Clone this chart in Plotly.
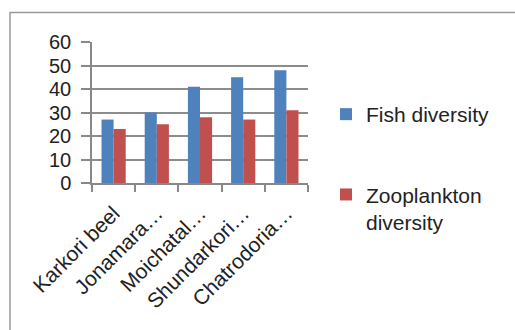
import plotly.graph_objects as go

categories = ["Karkori beel", "Jonamara…", "Moichatal…", "Shundarkori…", "Chatrodoria…"]
fish_diversity = [27, 30, 41, 45, 48]
zooplankton_diversity = [23, 25, 28, 27, 31]
y_ticks = [0, 10, 20, 30, 40, 50, 60]

W, H = 515, 330
L, R, T, B = 92, 207, 42, 147
pw, ph = W - L - R, H - T - B

def px_x(p):
    return (p - L) / pw

def px_y(p):
    return (H - B - p) / ph

font = "Liberation Sans, Arial, sans-serif"

fig = go.Figure()
fig.add_trace(go.Bar(x=categories, y=fish_diversity, name="Fish diversity",
                     marker=dict(color="#4F81BD", line=dict(width=0)),
                     legendgroup="a"))
fig.add_trace(go.Bar(x=categories, y=zooplankton_diversity, name="Zooplankton<br>diversity",
                     marker=dict(color="#C0504D", line=dict(width=0)),
                     legendgroup="b"))

fig.update_layout(
    width=W, height=H,
    margin=dict(l=L, r=R, t=T, b=B, pad=0),
    paper_bgcolor="white", plot_bgcolor="white",
    barmode="group", bargap=0.44, bargroupgap=0,
    font=dict(family=font, size=20, color="#222"),
    showlegend=True,
    legend=dict(x=px_x(326), y=px_y(94), xanchor="left", yanchor="top",
                font=dict(family=font, size=21, color="#222"),
                traceorder="grouped", tracegroupgap=50, valign="top",
                maxheight=300,
                bgcolor="rgba(0,0,0,0)", borderwidth=0),
    shapes=[dict(type="rect", xref="paper", yref="paper",
                 x0=px_x(10), x1=px_x(600), y0=px_y(12.5), y1=px_y(400),
                 line=dict(color="#9a9a9a", width=1.5), fillcolor="rgba(0,0,0,0)",
                 layer="below")],
)

fig.update_xaxes(type="category", tickangle=-45, tickson="boundaries",
                 ticks="outside", ticklen=7, tickcolor="#888", tickwidth=1.5,
                 showline=True, linecolor="#888", linewidth=1.5,
                 showgrid=False, ticklabelstandoff=8,
                 tickfont=dict(family=font, size=21, color="#222"))
fig.update_yaxes(range=[0, 60], tickvals=y_ticks, ticks="outside", ticklen=9,
                 tickcolor="#888", tickwidth=1.5,
                 showline=True, linecolor="#888", linewidth=1.5,
                 showgrid=True, gridcolor="#8c8c8c", gridwidth=1.5,
                 zeroline=False, ticklabelstandoff=6,
                 tickfont=dict(family=font, size=20, color="#222"))

fig.write_html("out.html")
